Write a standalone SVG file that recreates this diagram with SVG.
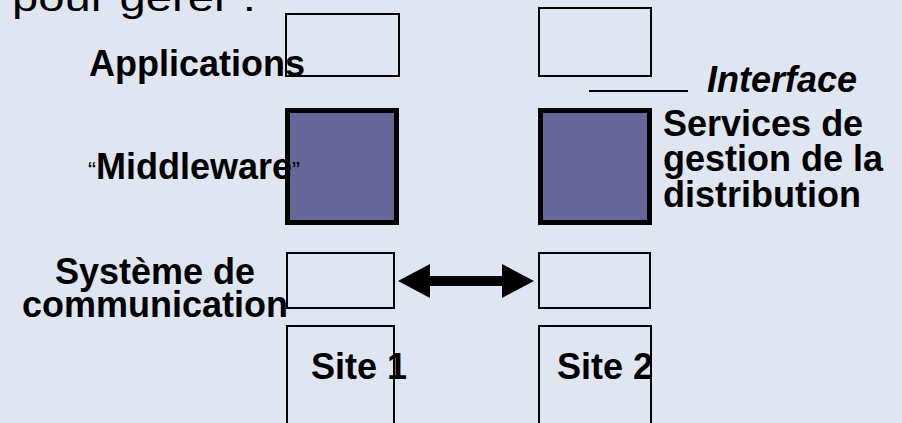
<svg xmlns="http://www.w3.org/2000/svg" width="902" height="423" viewBox="0 0 902 423">
  <style>
    .bg { fill: #dfe6f1; }
    .layer { fill: none; stroke: #000; stroke-width: 2; }
    .mw { fill: #666699; stroke: #000; stroke-width: 5; }
    .lbl { font-family: "Liberation Sans", Arial, sans-serif; font-size: 36px; font-weight: bold; fill: #000; }
    .q { font-weight: normal; font-size: 24px; }
    .title { font-family: "Liberation Sans", Arial, sans-serif; font-size: 38px; fill: #000; }
    .link { stroke: #000; stroke-width: 10; fill: none; }
  </style>
  <defs>
    <marker id="head" viewBox="0 0 32 34" markerWidth="32" markerHeight="34" refX="2" refY="17" markerUnits="userSpaceOnUse" orient="auto-start-reverse">
      <path d="M0,0 L32,17 L0,34 Z" fill="#000"/>
    </marker>
  </defs>

  <rect class="bg" x="0" y="0" width="902" height="423"/>

  <!-- heading, cut by the top edge -->
  <text class="title" x="12" y="11" textLength="244" lengthAdjust="spacingAndGlyphs">pour gérer :</text>

  <!-- site 1 stack -->
  <g id="app1"><rect class="layer" x="286" y="14" width="113" height="62"/></g>
  <g id="mw1"><rect class="mw" x="287.5" y="110.5" width="109" height="112"/></g>
  <g id="comm1"><rect class="layer" x="287" y="253" width="107" height="55"/></g>
  <g id="site1"><rect class="layer" x="287" y="326" width="107" height="110"/></g>

  <!-- site 2 stack -->
  <g id="app2"><rect class="layer" x="539" y="8" width="112" height="68"/></g>
  <g id="mw2"><rect class="mw" x="540.5" y="110.5" width="109" height="112"/></g>
  <g id="comm2"><rect class="layer" x="539" y="253" width="111" height="55"/></g>
  <g id="site2"><rect class="layer" x="539" y="326" width="112" height="110"/></g>

  <!-- communication link between sites -->
  <g id="connectors">
    <line class="link" x1="428" y1="281" x2="504" y2="281" marker-start="url(#head)" marker-end="url(#head)"/>
  </g>

  <!-- interface marker line -->
  <g id="interface">
    <line x1="589" y1="91" x2="688" y2="91" stroke="#000" stroke-width="2"/>
    <text class="lbl" x="707" y="92" font-style="italic">Interface</text>
  </g>

  <!-- layer labels -->
  <g id="labels">
    <text class="lbl" x="89" y="76">Applications</text>
    <text class="lbl" x="88" y="179"><tspan class="q">“</tspan>Middleware<tspan class="q">”</tspan></text>
    <text class="lbl" x="155" y="284" text-anchor="middle">Système de</text>
    <text class="lbl" x="22" y="317">communication</text>
    <text class="lbl" x="311" y="379">Site 1</text>
    <text class="lbl" x="557" y="379">Site 2</text>
    <text class="lbl" x="663" y="136">Services de</text>
    <text class="lbl" x="663" y="171">gestion de la</text>
    <text class="lbl" x="663" y="207">distribution</text>
  </g>
</svg>
